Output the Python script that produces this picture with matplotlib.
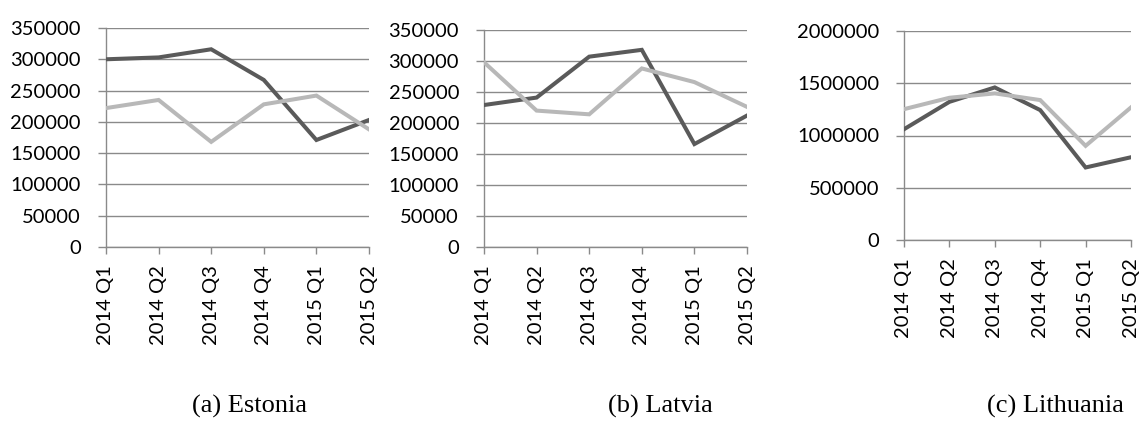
import matplotlib
matplotlib.use("Agg")
import matplotlib.pyplot as plt

quarters = ["2014 Q1", "2014 Q2", "2014 Q3", "2014 Q4", "2015 Q1", "2015 Q2"]

estonia_dark = [300000, 303000, 316000, 267000, 171000, 203000]
estonia_light = [222000, 235000, 168000, 228000, 242000, 188000]

latvia_dark = [229000, 241000, 307000, 318000, 166000, 212000]
latvia_light = [298000, 220000, 214000, 288000, 266000, 226000]

lithuania_dark = [1060000, 1322000, 1460000, 1243000, 694000, 792000]
lithuania_light = [1252000, 1361000, 1403000, 1339000, 901000, 1269000]

captions = ["(a) Estonia", "(b) Latvia", "(c) Lithuania"]

W, H = 1142, 421
fig = plt.figure(figsize=(W / 100, H / 100), dpi=100)

DARK = "#5a5a5a"
LIGHT = "#b8b8b8"
GRID = "#8a8a8a"
TICKFONT = ["Lato", "DejaVu Sans"]

panels = [
    dict(box=(106, 369, 28, 247), dark=estonia_dark, light=estonia_light,
         ymax=350000, step=50000, cap_x=250),
    dict(box=(484, 747, 30, 247), dark=latvia_dark, light=latvia_light,
         ymax=350000, step=50000, cap_x=660),
    dict(box=(904, 1131, 31, 240), dark=lithuania_dark, light=lithuania_light,
         ymax=2000000, step=500000, cap_x=1055),
]

for p, cap in zip(panels, captions):
    l, r, t, b = p["box"]
    ax = fig.add_axes([l / W, 1 - b / H, (r - l) / W, (b - t) / H])
    x = list(range(len(quarters)))
    ax.plot(x, p["dark"], color=DARK, lw=2.9, solid_joinstyle="miter", zorder=3)
    ax.plot(x, p["light"], color=LIGHT, lw=2.9, solid_joinstyle="miter", zorder=3)
    ax.set_xlim(0, len(quarters) - 1)
    ax.set_ylim(0, p["ymax"])
    ticks = list(range(0, p["ymax"] + 1, p["step"]))
    ax.set_yticks(ticks)
    ax.set_yticklabels([str(v) for v in ticks], fontsize=14.5, family=TICKFONT)
    ax.set_xticks(x)
    ax.set_xticklabels(quarters, rotation=90, fontsize=14.5, family=TICKFONT)
    ax.grid(axis="y", color=GRID, lw=1.0)
    ax.set_axisbelow(True)
    for s in ["top", "right"]:
        ax.spines[s].set_visible(False)
    for s in ["left", "bottom"]:
        ax.spines[s].set_color(GRID)
        ax.spines[s].set_linewidth(1.0)
    ax.tick_params(axis="y", length=6, width=1, color=GRID, pad=12)
    ax.tick_params(axis="x", length=5, width=1, color=GRID, pad=8)
    fig.text(p["cap_x"] / W, 1 - 406 / H, cap, ha="center", va="center",
             fontsize=19, family=["Liberation Serif", "DejaVu Serif"])

fig.savefig("out.png", dpi=100)
